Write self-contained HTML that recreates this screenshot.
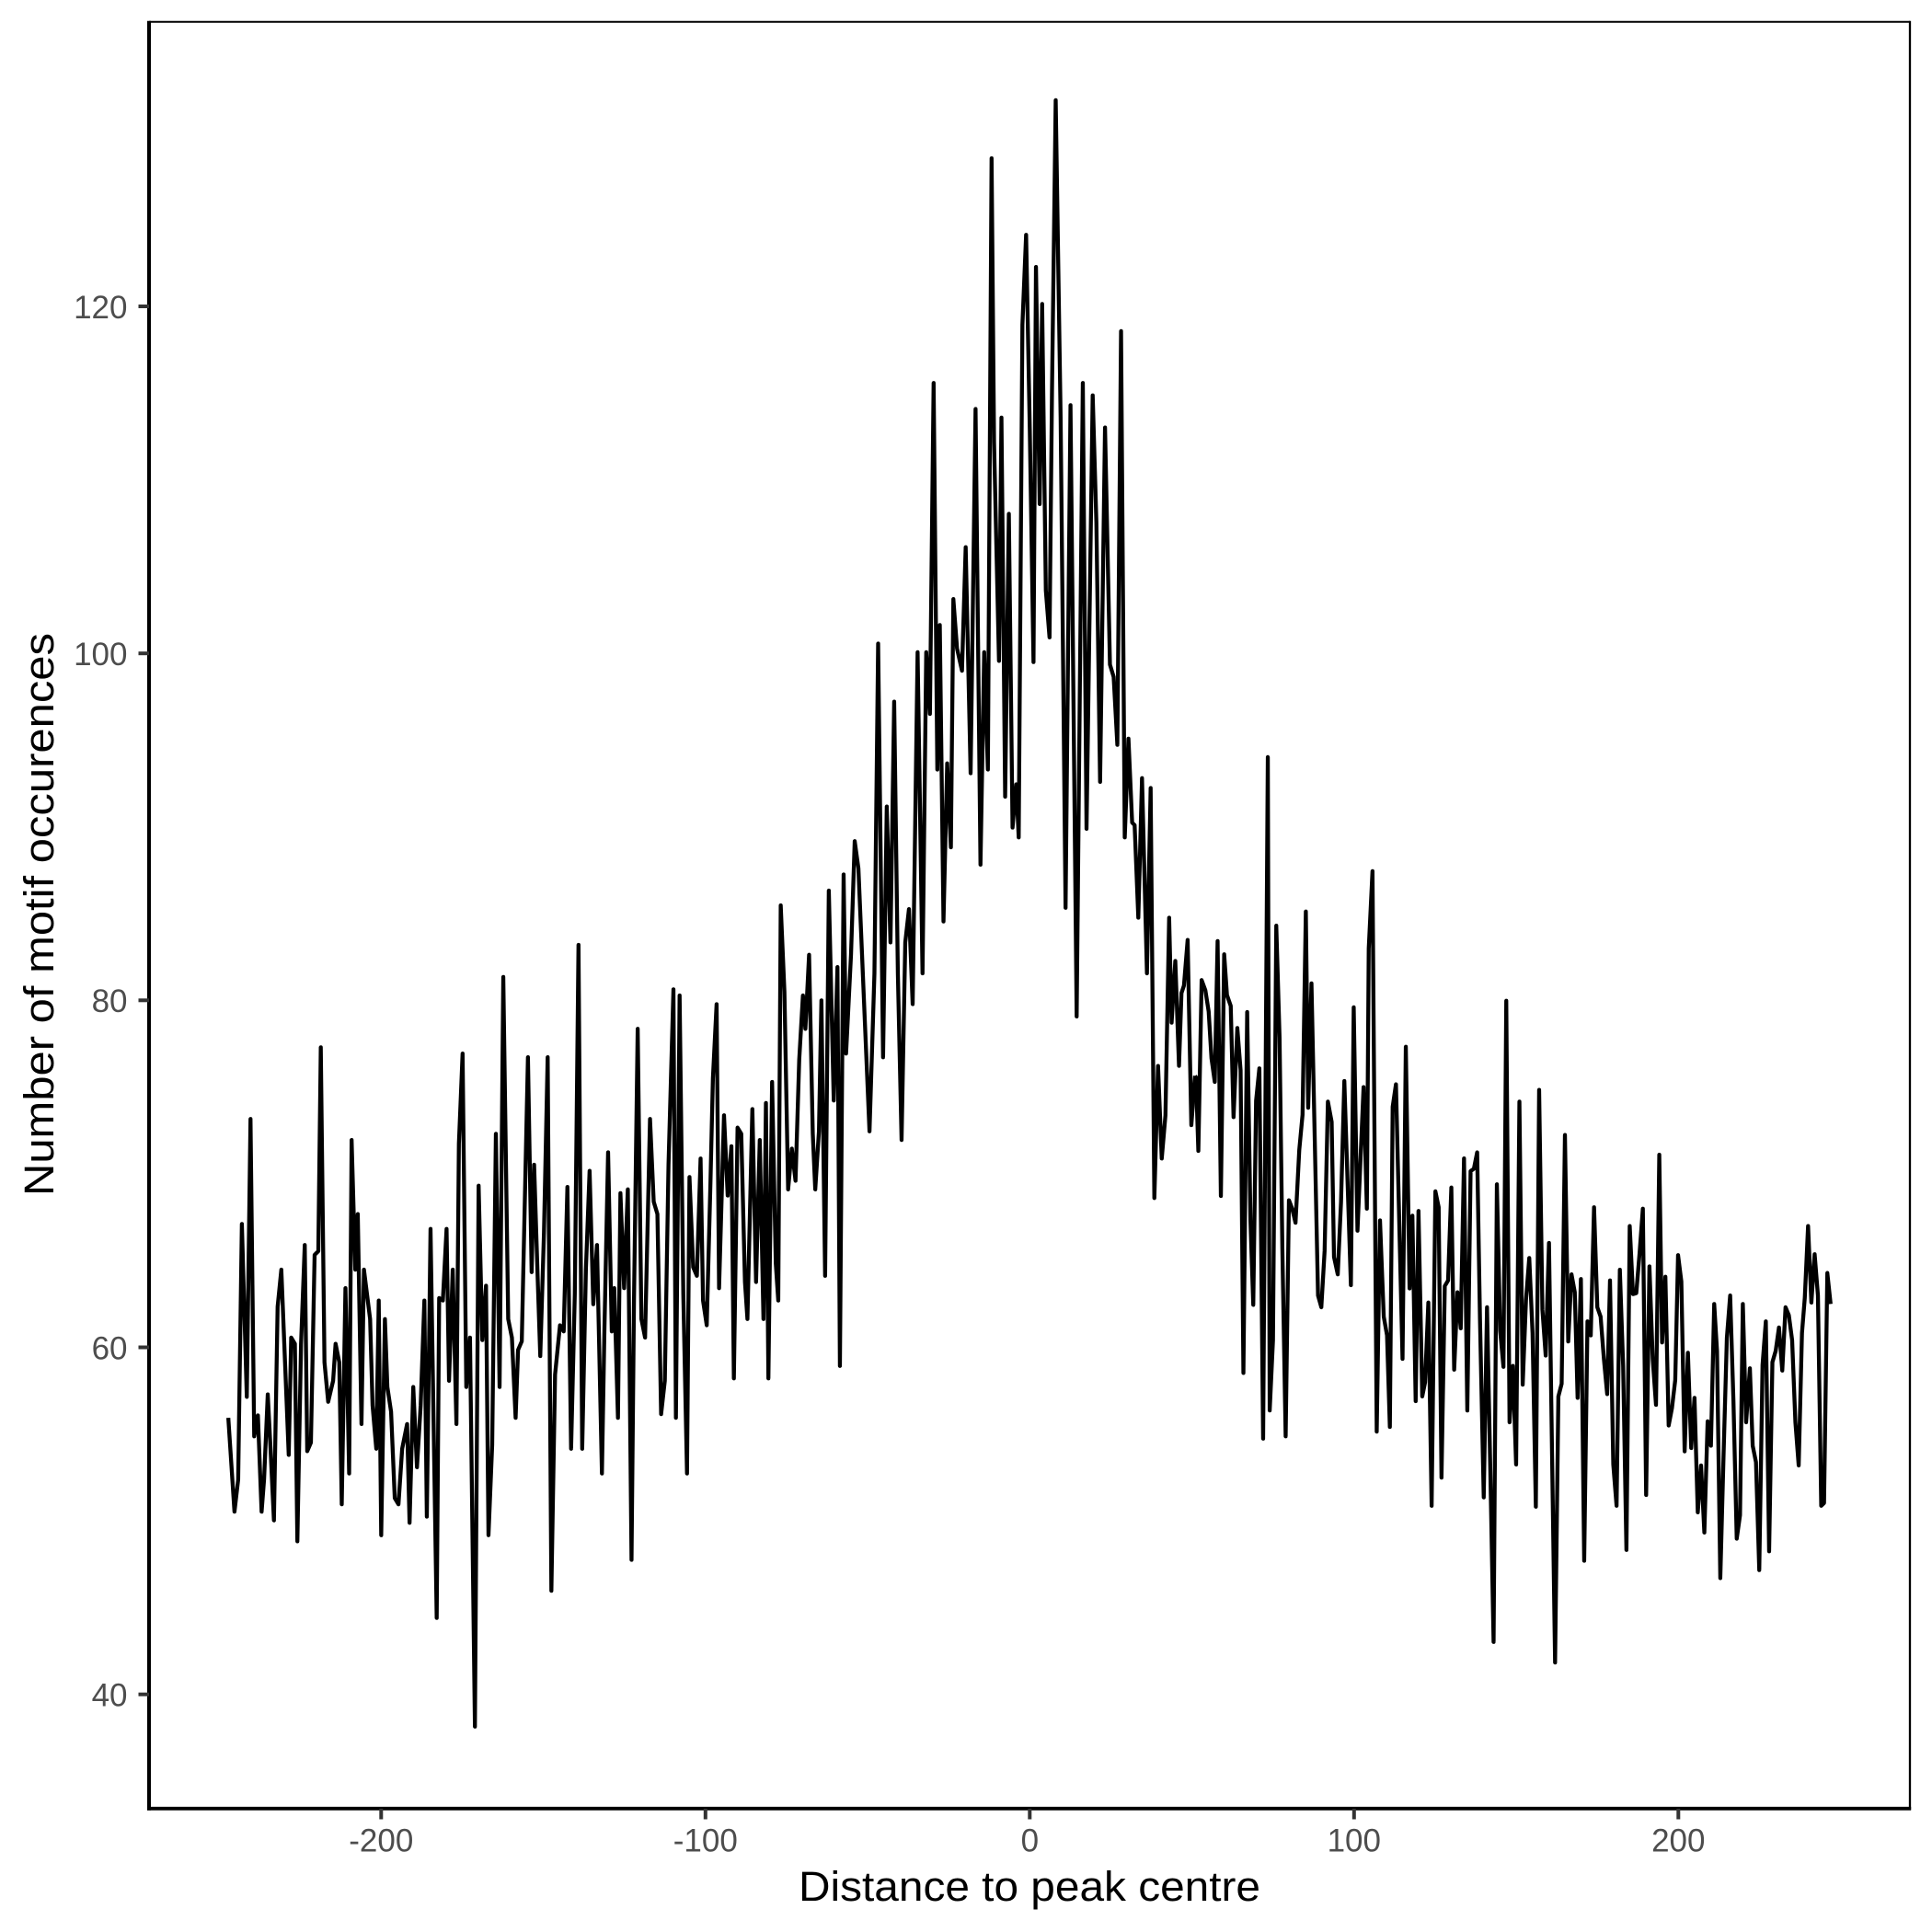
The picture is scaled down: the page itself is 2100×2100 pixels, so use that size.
<!DOCTYPE html>
<html>
<head>
<meta charset="utf-8">
<style>
  html, body { margin: 0; padding: 0; background: #ffffff; }
  svg { display: block; }
  .tick { font-family: "Liberation Sans", "DejaVu Sans", sans-serif; font-size: 35px; fill: #4D4D4D; }
  .title { font-family: "Liberation Sans", "DejaVu Sans", sans-serif; font-size: 45px; fill: #000000; }
</style>
</head>
<body>
<svg width="2100" height="2100" viewBox="0 0 2100 2100" xmlns="http://www.w3.org/2000/svg">
  <rect x="0" y="0" width="2100" height="2100" fill="#ffffff"/>

  <!-- panel border (top/right thin) -->
  <line x1="162" y1="23.7" x2="2076" y2="23.7" stroke="#000" stroke-width="2"/>
  <line x1="2076" y1="22.7" x2="2076" y2="1967" stroke="#000" stroke-width="2.3"/>

  <!-- data line -->
  <g fill="none" stroke="#000" stroke-linejoin="round" stroke-linecap="butt">
    <polyline vector-effect="non-scaling-stroke" stroke-width="4.3" transform="matrix(1.3403 0 0 1.3423 0.2 -2.5)" points="185,1150 190,1226 193,1200 196,993 200,1133 203,908 206,1165 209,1148 212,1226 214,1200 217,1131 219,1170 222,1233 225,1060 228,1030 231,1105 234,1180 236,1085 239,1090 241,1250 244,1090 247,1010 249,1177 252,1170 255,1018 258,1015 260,850 263,1105 266,1137 270,1120 272,1090 275,1105 277,1220 280,1045 283,1195 285,925 288,1030 290,985 293,1155 295,1030 300,1070 302,1140 305,1175 307,1055 309,1245 312,1070 314,1125 317,1145 320,1215 323,1220 326,1175 330,1155 332,1235 335,1125 338,1190 341,1140 344,1055 346,1230 349,997 354,1312 356,1053 359,1055 362,997 364,1120 367,1030 370,1155 372,928 375,855 378,1125 381,1085 385,1400 388,962 391,1087 394,1043 396,1245 399,1172 402,920 405,1125 408,793 412,1070 415,1085 418,1150 420,1095 423,1088 428,858 431,1032 433,945 436,1040 438,1100 441,1000 444,858 447,1290 450,1115 454,1075 457,1080 460,963 463,1175 466,1050 469,767 472,1175 475,1030 478,950 481,1058 484,1010 488,1195 490,1080 493,935 496,1080 498,1045 501,1150 503,968 506,1045 509,965 512,1265 514,1055 517,835 520,1070 523,1085 527,908 530,975 533,985 536,1147 539,1120 542,945 546,803 548,1150 551,808 554,1050 557,1195 559,955 562,1028 565,1035 568,940 570,1055 573,1075 576,960 578,875 581,815 583,1045 587,905 590,970 593,930 595,1118 598,915 601,920 604,1040 606,1070 610,900 613,1040 616,925 619,1070 621,895 623,1118 626,878 629,1025 631,1055 633,735 636,805 639,965 642,932 645,958 648,860 651,808 653,835 656,775 659,920 661,965 664,918 666,812 669,1035 672,723 676,893 679,785 681,1108 684,710 686,855 690,775 693,683 696,705 700,800 705,918 709,790 712,523 716,858 719,655 722,765 725,570 728,790 731,925 734,765 737,738 740,815 744,530 748,790 751,530 754,580 757,312 760,625 762,508 765,748 768,620 771,688 773,487 776,527 780,545 783,445 787,628 791,333 795,702 798,530 801,625 804,130 806,360 810,537 812,340 815,647 818,418 821,672 824,637 826,680 829,265 832,192 835,350 838,538 840,218 843,410 845,248 848,480 851,518 853,318 856,83 860,340 864,737 868,330 873,825 878,312 881,673 886,322 889,425 892,635 896,348 900,540 903,550 906,605 909,270 912,680 915,600 918,668 920,670 923,745 926,632 930,790 933,640 936,972 939,865 942,940 945,905 948,745 950,830 953,780 956,865 958,806 960,800 963,763 966,913 969,873"/>
    <polyline vector-effect="non-scaling-stroke" stroke-width="4.3" transform="matrix(0.5102 0 0 0.5102 1300 1000)" points="-2,332 0,335 5,492 12,128 20,150 27,195 33,295 40,345 46,45 53,588 60,73 66,160 74,183 80,420 88,230 95,320 101,965 109,196 116,640 122,820 128,385 135,316 143,1105 153,-347 157,1045 164,895 171,12 178,250 184,700 191,1100 198,597 205,615 212,645 220,490 227,415 234,-18 239,400 246,135 260,800 267,825 274,705 281,387 289,430 294,718 302,755 309,600 316,343 330,778 336,186 344,662 357,356 364,615 368,61 376,-104 385,1090 392,640 400,845 407,885 413,1080 419,398 426,350 440,935 447,270 455,785 461,630 468,1025 474,620 482,1015 488,985 495,815 502,1248 510,578 517,612 523,1188 530,780 537,768 544,570 550,958 557,793 564,870 571,508 578,1045 585,535 592,530 599,495 605,850 613,1230 620,825 627,1170 634,1538 641,563 648,875 655,952 661,172 668,1070 675,950 682,1160 689,387 696,990 703,810 710,720 717,880 724,1250 731,362 738,830 745,928 752,688 765,1582 772,1015 779,988 786,458 793,898 800,755 807,793 813,1018 820,765 827,1365 834,855 841,885 848,612 855,825 862,845 869,935 876,1010 882,768 889,1160 896,1248 903,745 910,950 917,1342 924,652 931,797 938,795 945,710 952,615 959,1225 966,738 973,935 980,1033 987,500 993,900 1000,760 1007,1077 1014,1040 1021,980 1027,714 1034,770 1041,1132 1048,922 1055,1125 1062,1018 1069,1262 1076,1162 1083,1305 1090,1068 1097,1120 1104,818 1110,918 1117,1402 1124,1138 1131,890 1138,800 1145,1025 1152,1318 1159,1268 1165,818 1172,1070 1180,955 1186,1120 1193,1155 1200,1385 1207,948 1214,855 1221,1345 1228,942 1235,918 1242,868 1249,960 1256,825 1263,842 1270,895 1277,1070 1284,1162 1291,880 1297,805 1304,652 1311,815 1318,712 1325,800 1332,1248 1338,1242 1345,752 1352,818"/>
  </g>

  <!-- axis lines (left/bottom thicker) -->
  <line x1="162" y1="22.7" x2="162" y2="1967.7" stroke="#000" stroke-width="4"/>
  <line x1="160" y1="1965.8" x2="2077.2" y2="1965.8" stroke="#000" stroke-width="3.8"/>

  <!-- y ticks -->
  <g stroke="#333333" stroke-width="4">
    <line x1="150.5" y1="333" x2="162" y2="333"/>
    <line x1="150.5" y1="710.2" x2="162" y2="710.2"/>
    <line x1="150.5" y1="1087.3" x2="162" y2="1087.3"/>
    <line x1="150.5" y1="1464.5" x2="162" y2="1464.5"/>
    <line x1="150.5" y1="1841.7" x2="162" y2="1841.7"/>
  </g>
  <g class="tick" text-anchor="end">
    <text x="138.5" y="345.8">120</text>
    <text x="138.5" y="723">100</text>
    <text x="138.5" y="1100.1">80</text>
    <text x="138.5" y="1477.3">60</text>
    <text x="138.5" y="1854.5">40</text>
  </g>

  <!-- x ticks -->
  <g stroke="#333333" stroke-width="4">
    <line x1="414.3" y1="1966" x2="414.3" y2="1977.5"/>
    <line x1="766.8" y1="1966" x2="766.8" y2="1977.5"/>
    <line x1="1119.3" y1="1966" x2="1119.3" y2="1977.5"/>
    <line x1="1471.8" y1="1966" x2="1471.8" y2="1977.5"/>
    <line x1="1824.3" y1="1966" x2="1824.3" y2="1977.5"/>
  </g>
  <g class="tick" text-anchor="middle">
    <text x="414.3" y="2012.5">-200</text>
    <text x="766.8" y="2012.5">-100</text>
    <text x="1119.3" y="2012.5">0</text>
    <text x="1471.8" y="2012.5">100</text>
    <text x="1824.3" y="2012.5">200</text>
  </g>

  <!-- axis titles -->
  <text class="title" x="1119" y="2066" text-anchor="middle" textLength="502" lengthAdjust="spacingAndGlyphs">Distance to peak centre</text>
  <text class="title" transform="translate(58 994) rotate(-90)" x="0" y="0" text-anchor="middle" textLength="612" lengthAdjust="spacingAndGlyphs">Number of motif occurences</text>
</svg>
</body>
</html>
